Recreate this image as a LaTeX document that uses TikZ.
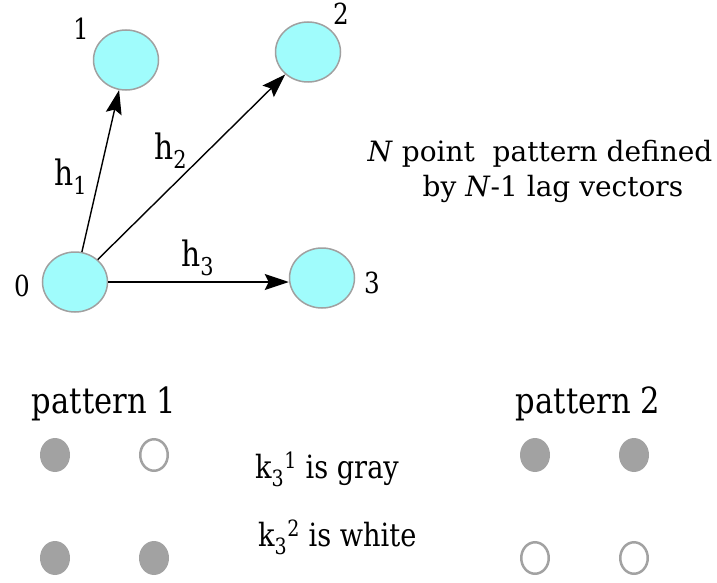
\documentclass[tikz,border=0pt]{standalone}
\usepackage{fontspec}
\setmainfont[FakeStretch=0.85]{DejaVu Serif}
\newfontfamily\infofont{DejaVu Serif}
\usepackage{tikz}
\usetikzlibrary{arrows.meta, positioning, shapes.geometric}
\definecolor{siteFill}{RGB}{160,252,252}
\definecolor{siteLine}{RGB}{160,160,160}
\definecolor{dotGray}{RGB}{162,162,162}
\def\siteW{65pt}
\def\siteH{60pt}
\def\dotW{30pt}
\def\dotH{34pt}

\begin{document}
\begin{tikzpicture}[
    x=1pt, y=-1pt,
    >={Stealth[length=24pt,width=16pt,inset=4pt]},
    site/.style={ellipse, draw=siteLine, line width=1.5pt, fill=siteFill,
        minimum width=\siteW, minimum height=\siteH, inner sep=0pt},
    lag/.style={->, line width=1.4pt},
    tag/.style={inner sep=0pt, font=\fontsize{29}{35}\selectfont},
    hlab/.style={inner sep=0pt, anchor=base west, font=\fontsize{35}{42}\selectfont},
    txt/.style={inner sep=0pt, anchor=base, font=\infofont\fontsize{28}{34}\selectfont},
    big/.style={inner sep=0pt, font=\fontsize{36}{43}\selectfont},
    note/.style={inner sep=0pt, anchor=base west, font=\fontsize{32}{38}\selectfont},
    gray dot/.style={ellipse, fill=dotGray, minimum width=\dotW, minimum height=\dotH, inner sep=0pt},
    white dot/.style={ellipse, draw=dotGray, line width=2.5pt, fill=white,
        minimum width=\dotW-2.5pt, minimum height=\dotH-2.5pt, inner sep=0pt}
]
\useasboundingbox (0,0) rectangle (717,583);

% the four points
\node[site] (n0) at (75,282) {};
\node[site] (n1) at (126,60) {};
\node[site] (n2) at (308,52) {};
\node[site] (n3) at (322,278) {};
\node[tag] (lab0) at (22,286) {0};
\node[tag] (lab1) at (81,29) {1};
\node[tag] (lab2) at (341,14) {2};
\node[tag] (lab3) at (372,283) {3};

% lag vectors
\draw[lag] (n0) -- (n1);
\draw[lag] (n0) -- (n2);
\draw[lag] (n0) -- (n0 -| n3.west);
\node[hlab] (h1) at (54,185) {h\textsubscript{1}};
\node[hlab] (h2) at (154,159) {h\textsubscript{2}};
\node[hlab] (h3) at (181,266) {h\textsubscript{3}};

\node[txt] (info1) at (540,161) {\textit{N} point\ \ pattern defined};
\node[txt] (info2) at (553,196) {by \textit{N}-1 lag vectors};

% the two patterns
\node[big, anchor=base] (pat1) at (104,413) {pattern 1};
\node[big, anchor=base] (pat2) at (588,413) {pattern 2};

\node[gray dot] (p1a) at (55,455) {};
\node[white dot] (p1b) at (154,455) {};
\node[gray dot] (p1c) at (55,558) {};
\node[gray dot] (p1d) at (154,558) {};

\node[gray dot] (p2a) at (535,455) {};
\node[gray dot] (p2b) at (634,455) {};
\node[white dot] (p2c) at (535,558) {};
\node[white dot] (p2d) at (634,558) {};

\node[note] (k1) at (255,478) {k\textsubscript{3}\textsuperscript{1} is gray};
\node[note] (k2) at (258,546) {k\textsubscript{3}\textsuperscript{2} is white};
\end{tikzpicture}
\end{document}
